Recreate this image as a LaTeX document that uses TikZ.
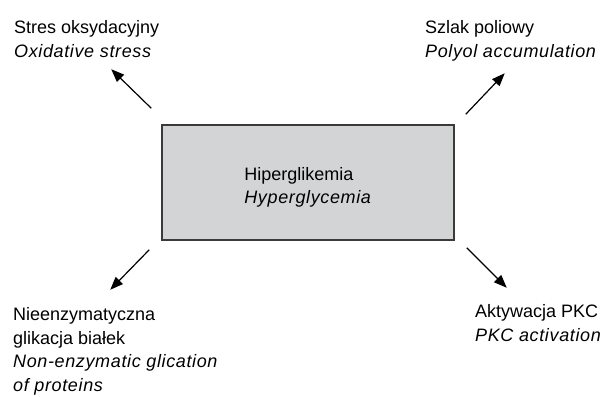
\documentclass[tikz,border=0pt]{standalone}
\usepackage{fontspec}
\setmainfont[ItalicFeatures={LetterSpace=3.5}]{Liberation Sans}
\usetikzlibrary{arrows.meta,calc,positioning}
\definecolor{boxgray}{HTML}{D3D4D6}
\definecolor{edgegray}{HTML}{3A3A3A}
\tikzset{
	effect diagram/.style={
		x=1pt, y=-1pt,
		font=\fontsize{18}{23.5}\selectfont,
		ar/.style={-{Triangle[length=13pt,width=10pt]}, line width=1.2pt}
		},
	hbox/.style={draw=edgegray, fill=boxgray, line width=1.5pt,
		minimum width=292pt, minimum height=115pt, align=left, inner sep=0pt},
	effect/.style={anchor=base west, align=left, inner sep=0pt}
}

\begin{document}
\begin{tikzpicture}[effect diagram]
  \useasboundingbox (0,0) rectangle (604,396);
  \node[hbox] (hyper) at (308,182.5) {Hiperglikemia\\\textit{Hyperglycemia}\\[-29.5pt]};
  % the four outcomes (base = last line)
  \node[effect] (oxid) at (14,57) {Stres oksydacyjny\\\textit{Oxidative stress}};
  \node[effect] (polyol) at (425,57) {Szlak poliowy\\\textit{Polyol accumulation}};
  \node[effect] (glic) at (13,391) {Nieenzymatyczna\\glikacja białek\\\textit{Non-enzymatic glication}\\\textit{of proteins}};
  \node[effect] (pkc) at (475,341) {Aktywacja PKC\\\textit{PKC activation}};
  % arrow ends
  \coordinate (oxid_in) at ($(hyper.north west)+(-10,-16)$);
  \coordinate (oxid_tip) at ($(hyper.north west)+(-50,-55)$);
  \coordinate (polyol_in) at ($(hyper.north east)+(11,-10)$);
  \coordinate (polyol_tip) at ($(hyper.north east)+(50,-51)$);
  \coordinate (glic_in) at ($(hyper.south west)+(-12,9)$);
  \coordinate (glic_tip) at ($(hyper.south west)+(-51,49)$);
  \coordinate (pkc_in) at ($(hyper.south east)+(12,7)$);
  \coordinate (pkc_tip) at ($(hyper.south east)+(52,47)$);
  \draw[ar] (oxid_in) -- (oxid_tip);
  \draw[ar] (polyol_in) -- (polyol_tip);
  \draw[ar] (glic_in) -- (glic_tip);
  \draw[ar] (pkc_in) -- (pkc_tip);
\end{tikzpicture}
\end{document}
